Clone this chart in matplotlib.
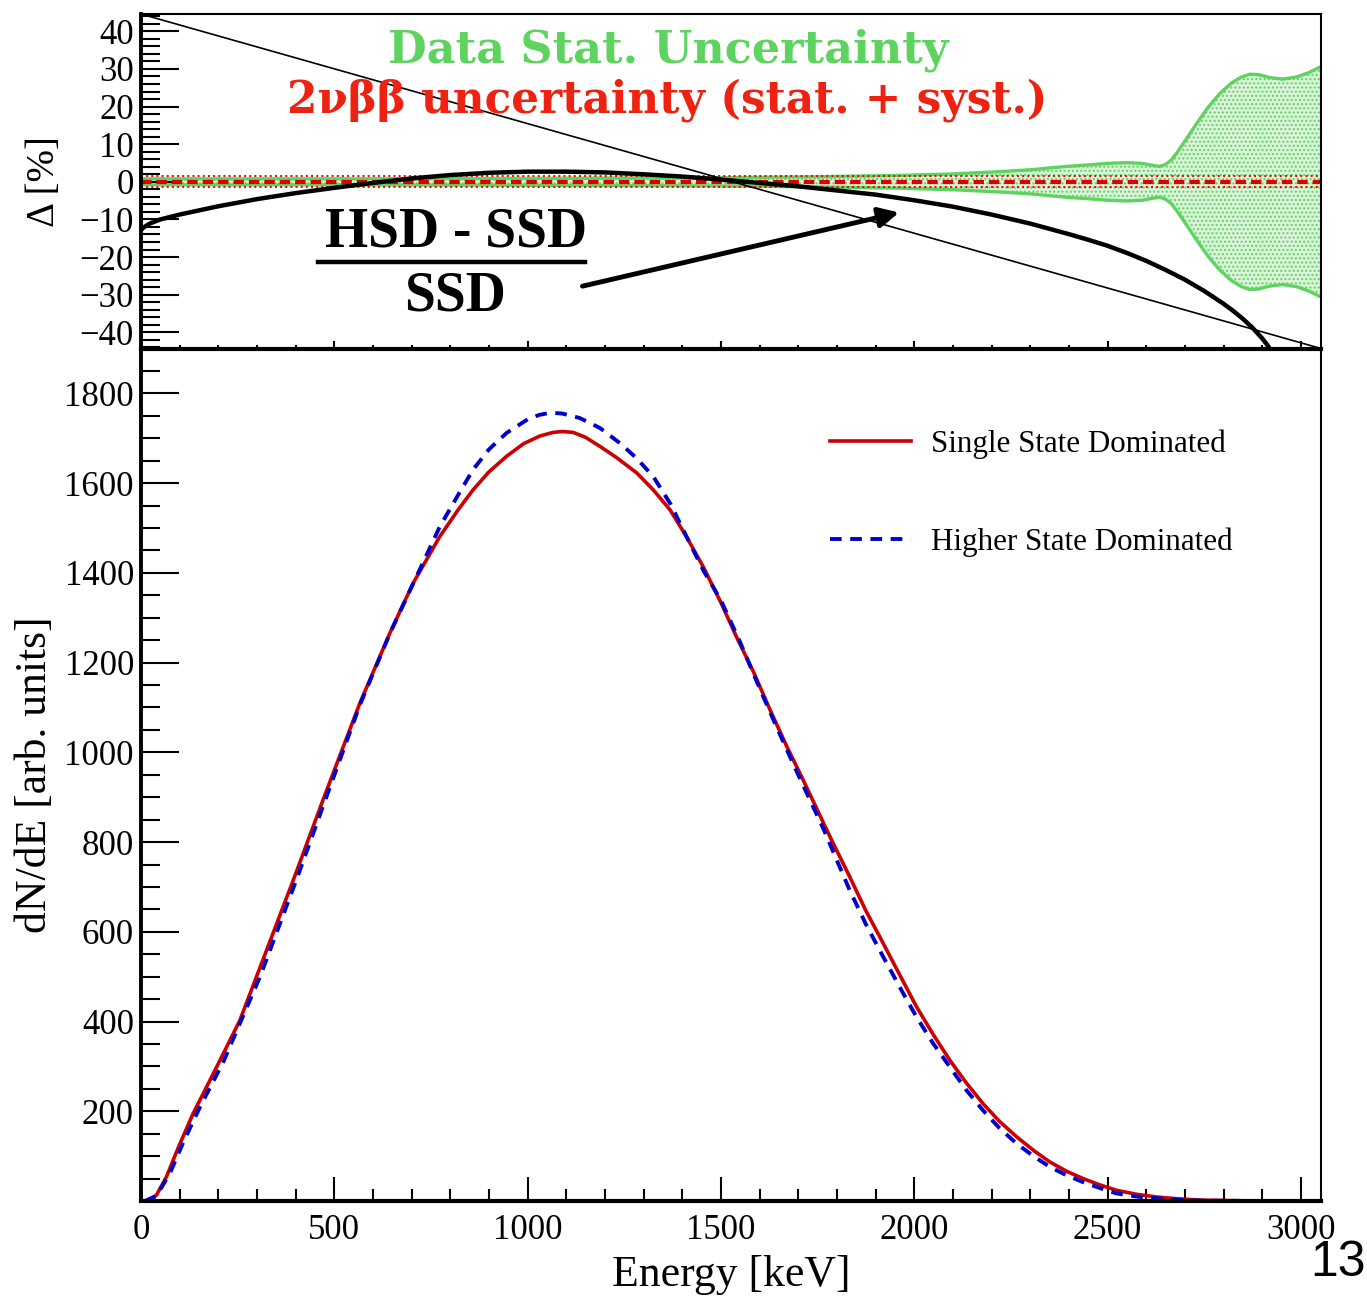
import matplotlib.pyplot as plt
import numpy as np
from matplotlib.ticker import MultipleLocator, FixedLocator

# ---- values ----
# lower pad: Single State Dominated (red, solid)
ssd_e = [10, 15, 40, 66, 97, 135, 196, 256, 325, 394, 471, 566, 644, 704, 773, 820, 859,
         900, 946, 990, 1032, 1066, 1090, 1118, 1150, 1187, 1230, 1282, 1325, 1368, 1410,
         1454, 1500, 1540, 1585, 1627, 1670, 1713, 1786, 1833, 1875, 1920, 1965, 2006,
         2050, 2092, 2135, 2178, 2220, 2265, 2310, 2351, 2395, 2437, 2480, 2523, 2575,
         2627, 2680, 2740, 2850, 3036]
ssd_n = [0, 1, 13, 54, 120, 195, 299, 403, 559, 715, 894, 1109, 1266, 1377, 1481, 1540, 1585,
         1625, 1660, 1688, 1705, 1713, 1715, 1713, 1702, 1682, 1657, 1623, 1585, 1541, 1482,
         1414, 1334, 1258, 1178, 1095, 1014, 938, 805, 723, 647, 574, 500, 433,
         370, 314, 263, 217, 178, 143, 112, 87, 66, 50, 36, 24, 15,
         9, 5, 2, 0.5, 0]

# lower pad: Higher State Dominated (blue, dashed)
hsd_e = [10, 40, 75, 109, 153, 213, 308, 403, 471, 566, 644, 773, 820, 859, 900, 946, 1000,
         1030, 1060, 1090, 1135, 1187, 1239, 1280, 1325, 1370, 1411, 1455, 1500, 1550, 1600,
         1650, 1700, 1765, 1833, 1875, 1920, 1965, 2006, 2050, 2092, 2135, 2178, 2220,
         2265, 2310, 2351, 2395, 2437, 2480, 2523, 2575, 2627, 2680, 2740, 2850, 3036]
hsd_n = [0, 11, 62, 130, 210, 310, 500, 718, 880, 1105, 1265, 1503, 1573, 1630, 1675, 1712, 1742,
         1752, 1757, 1755, 1745, 1723, 1689, 1657, 1615, 1553, 1481, 1405, 1339, 1245, 1143,
         1045, 950, 830, 693, 617, 544, 473, 410, 350, 299, 247, 202, 163,
         128, 99, 76, 57, 42, 29, 17, 10, 6, 3, 1, 0.2, 0]

# upper pad: (HSD - SSD)/SSD in %
ratio_e = [0, 5, 10, 25, 50, 100, 200, 300, 400, 500, 600, 700, 800, 900, 1000, 1100,
           1200, 1300, 1400, 1500, 1600, 1700, 1800, 1900, 2000, 2100, 2200, 2300,
           2400, 2450, 2500, 2550, 2600, 2650, 2700, 2750, 2800, 2825, 2850, 2875,
           2900, 2915, 2930]
ratio_pct = [-12.8, -12.3, -11.9, -11.0, -10.0, -8.7, -6.5, -4.6, -3.0, -1.6, -0.3, 0.9,
             1.8, 2.4, 2.7, 2.7, 2.5, 2.0, 1.4, 0.6, -0.3, -1.2, -2.3, -3.4, -4.9,
             -6.6, -8.7, -11.1, -13.9, -15.4, -17.0, -18.9, -21.0, -23.4, -26.0,
             -29.0, -32.4, -34.3, -36.4, -38.8, -41.6, -43.6, -46.0]

# upper pad: data stat. uncertainty (half width, %)
stat_e = [0, 250, 500, 750, 1000, 1250, 1500, 1750, 1963, 2100, 2221, 2300, 2394, 2450,
          2500, 2549, 2590, 2615, 2635, 2650, 2665, 2680, 2700, 2730, 2760, 2790, 2820,
          2845, 2868, 2890, 2920, 2954, 2990, 3020, 3052]
stat_hw = [0.8, 0.8, 0.8, 0.85, 0.9, 1.0, 1.1, 1.35, 1.7, 2.1, 2.7, 3.2, 4.1, 4.5,
           4.9, 5.1, 4.9, 4.4, 4.1, 4.6, 5.8, 7.8, 10.8, 15.4, 19.8, 23.4, 26.2,
           27.8, 28.6, 28.5, 27.7, 27.3, 27.9, 29.0, 30.6]

# upper pad: 2vbb uncertainty (stat. + syst.), half width in %
bb_e = [0, 3052]
bb_hw = [1.5, 1.5]

x_ticks = [0, 500, 1000, 1500, 2000, 2500, 3000]
y_ticks_bot = [200, 400, 600, 800, 1000, 1200, 1400, 1600, 1800]
y_ticks_top = [-40, -30, -20, -10, 0, 10, 20, 30, 40]

GREEN = '#5fd35f'
RED_TXT = '#ee2211'

plt.rcParams['font.family'] = ['Liberation Serif', 'DejaVu Serif']

fig = plt.figure(figsize=(13.67, 12.97), dpi=100)
ax_bot = fig.add_axes([0.1031, 0.0740, 0.8632, 0.6573])
ax_top = fig.add_axes([0.1031, 0.7313, 0.8632, 0.2579])


def root_style(ax, xmaj, xmin):
    ax.spines['left'].set_linewidth(2.8)
    ax.spines['bottom'].set_linewidth(3.0)
    ax.spines['right'].set_linewidth(1.5)
    ax.spines['top'].set_linewidth(1.5)
    ax.tick_params(which='both', direction='in', top=False, right=False,
                   width=1.5, labelsize=25, pad=5)
    ax.tick_params(axis='y', which='major', length=27)
    ax.tick_params(axis='y', which='minor', length=14)
    ax.tick_params(axis='x', which='major', length=xmaj, pad=9)
    ax.tick_params(axis='x', which='minor', length=xmin)
    ax.xaxis.set_major_locator(FixedLocator(x_ticks))
    ax.xaxis.set_minor_locator(MultipleLocator(100))
    ax.set_xlim(0, 3052)


# ---- lower pad ----
root_style(ax_bot, 17, 8.5)
ax_bot.spines['top'].set_visible(False)
ax_bot.plot(ssd_e, ssd_n, color='#cc0000', lw=2.6, label='Single State Dominated')
ax_bot.plot(hsd_e, hsd_n, color='#0000cc', lw=2.8, ls=(0, (3, 2.2)),
            label='Higher State Dominated')
ax_bot.set_ylim(0, 1900)
ax_bot.yaxis.set_major_locator(FixedLocator(y_ticks_bot))
ax_bot.yaxis.set_minor_locator(MultipleLocator(50))
ax_bot.set_xlabel('Energy [keV]', fontsize=31.5)
ax_bot.xaxis.set_label_coords(0.5, -0.087)
ax_bot.xaxis.label.set_va('center')
ax_bot.set_ylabel('dN/dE [arb. units]', fontsize=31.5)
ax_bot.yaxis.set_label_coords(-0.09, 0.5)
ax_bot.yaxis.label.set_va('center')
ax_bot.legend(loc='upper left', bbox_to_anchor=(0.584, 0.905), frameon=False,
              fontsize=22.3, handlelength=2.6, handletextpad=0.65,
              labelspacing=2.2, borderpad=0, borderaxespad=0)

# ---- upper pad ----
root_style(ax_top, 6, 3)
ax_top.tick_params(axis='x', labelbottom=False)
ax_top.set_ylim(-44.3, 44.6)
ax_top.yaxis.set_major_locator(FixedLocator(y_ticks_top))
ax_top.yaxis.set_minor_locator(MultipleLocator(2))
ax_top.set_ylabel('Δ [%]', fontsize=28)
ax_top.yaxis.set_label_coords(-0.082, 0.5)
ax_top.yaxis.label.set_va('center')

se = np.array(stat_e)
sh = np.array(stat_hw)
ax_top.fill_between(se, -sh, sh, facecolor='#dcf4dc', edgecolor=GREEN,
                    hatch='....', lw=0)
ax_top.plot(se, sh, color=GREEN, lw=2.4)
ax_top.plot(se, -sh, color=GREEN, lw=2.4)

be = np.array(bb_e)
bh = np.array(bb_hw)
ax_top.plot(be, bh, color='#ee0000', lw=1.4, ls=':')
ax_top.plot(be, -bh, color='#ee0000', lw=1.4, ls=':')
ax_top.plot(be, 0 * bh, color='#dd0000', lw=3.0, ls=(0, (2.5, 1.2)))

ax_top.plot(ratio_e, ratio_pct, color='black', lw=3.2)

# stray diagonal line across the pad
ax_top.plot([0, 1], [1, 0], transform=ax_top.transAxes, color='black', lw=1.2,
            clip_on=False)

ax_top.text(1363, 35.0, 'Data Stat. Uncertainty', color=GREEN, fontsize=32,
            fontweight='bold', family='DejaVu Serif', ha='center', va='center')
ax_top.text(1361, 21.8, '2νββ uncertainty (stat. + syst.)', color=RED_TXT,
            fontsize=31.5, fontweight='bold', family='DejaVu Serif',
            ha='center', va='center')

ax_top.text(815, -13.5, 'HSD - SSD', fontsize=40, fontweight='bold',
            ha='center', va='center')
ax_top.plot([458, 1148], [-21.2, -21.2], color='black', lw=3.2)
ax_top.text(812, -30.5, 'SSD', fontsize=40, fontweight='bold',
            ha='center', va='center')
ax_top.annotate('', xy=(1968, -8.0), xytext=(1135, -27.9),
                arrowprops=dict(arrowstyle='-|>', lw=3.5, color='black',
                                mutation_scale=30))

# slide page number
fig.text(0.9995, 0.0165, '13', fontsize=36, family='Liberation Sans',
         ha='right', va='baseline')

fig.savefig('out.png', dpi=100)
